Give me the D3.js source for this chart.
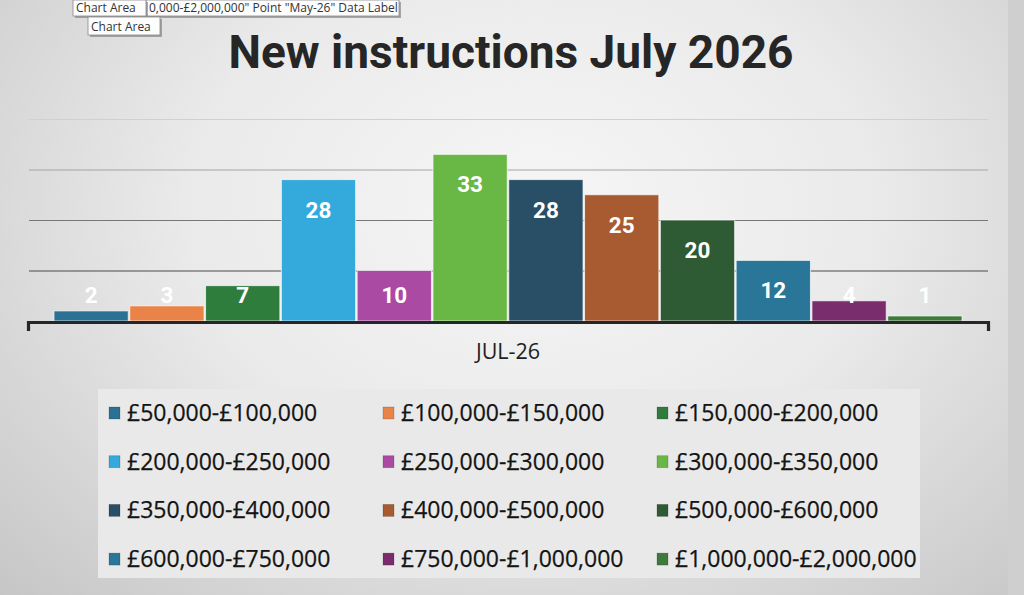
<!DOCTYPE html>
<html>
<head>
<meta charset="utf-8">
<title>New instructions July 2026</title>
<script src="https://cdn.jsdelivr.net/npm/d3@7"></script>
<style>
  * { margin: 0; padding: 0; }
  body {
    width: 1024px;
    height: 595px;
    overflow: hidden;
    background: radial-gradient(ellipse 75% 95% at 52% 35%, #f6f6f6 0%, #eaeaea 45%, #d2d2d2 80%, #c4c4c4 100%);
  }
  svg { display: block; }
</style>
</head>
<body>
<div id="chart"></div>
<script>
// chart values
const title = "New instructions July 2026";
const categories = ["JUL-26"];
const priceBands = [
  "£50,000-£100,000", "£100,000-£150,000", "£150,000-£200,000",
  "£200,000-£250,000", "£250,000-£300,000", "£300,000-£350,000",
  "£350,000-£400,000", "£400,000-£500,000", "£500,000-£600,000",
  "£600,000-£750,000", "£750,000-£1,000,000", "£1,000,000-£2,000,000"
];
const instructions = [2, 3, 7, 28, 10, 33, 28, 25, 20, 12, 4, 1];
const bandColours = [
  "#2b7193", "#ea8348", "#2f7d3d",
  "#33a9dc", "#aa4aa3", "#69b846",
  "#284f66", "#a85a30", "#2e5a34",
  "#2a7698", "#7a2d6c", "#3e7a3c"
];
const yTicks = [0, 10, 20, 30, 40];
const tooltips = ["Chart Area", "0,000-£2,000,000\" Point \"May-26\" Data Label", "Chart Area"];

const W = 1024, H = 595;
const svg = d3.select("#chart").append("svg")
  .attr("width", W).attr("height", H);

// strip at the right edge (window behind the chart)
svg.append("rect")
  .attr("x", 1008).attr("y", 0).attr("width", 16).attr("height", H)
  .attr("fill", "#cfcfcf");

// title
svg.append("text")
  .attr("x", 511).attr("y", 68)
  .attr("text-anchor", "middle")
  .attr("font-family", "Roboto, 'Open Sans', sans-serif")
  .attr("font-weight", 700)
  .attr("font-size", 47)
  .attr("fill", "#262626")
  .attr("textLength", 565)
  .attr("lengthAdjust", "spacingAndGlyphs")
  .text(title);

// scales
const x0 = d3.scaleBand().domain(categories).range([28, 988]).paddingOuter(0.0286);
const x1 = d3.scaleBand().domain(priceBands).range([0, x0.bandwidth()]).paddingInner(0.02);
const y = d3.scaleLinear().domain([0, 40]).range([321, 119]);
const gridColour = d3.scaleLinear().domain([10, 40]).range(["#4a4a4a", "#d0d0d0"]);

// gridlines
svg.append("g")
  .selectAll("line")
  .data(yTicks.filter(t => t > 0))
  .join("line")
  .attr("x1", 29).attr("x2", 988)
  .attr("y1", d => y(d) + 0.5).attr("y2", d => y(d) + 0.5)
  .attr("stroke", d => gridColour(d))
  .attr("stroke-width", 1.2);

// bars
const group = svg.append("g")
  .attr("transform", `translate(${x0(categories[0])},0)`);

group.selectAll("rect")
  .data(instructions)
  .join("rect")
  .attr("x", (d, i) => x1(priceBands[i]))
  .attr("y", d => y(d))
  .attr("width", x1.bandwidth())
  .attr("height", d => y(0) - y(d))
  .attr("fill", (d, i) => bandColours[i])
  .attr("stroke", "rgba(255,255,255,0.7)")
  .attr("stroke-width", 1);

// data labels
group.selectAll("text")
  .data(instructions)
  .join("text")
  .attr("x", (d, i) => x1(priceBands[i]) + x1.bandwidth() / 2)
  .attr("y", d => Math.min(y(d) + 38, y(0) - 18))
  .attr("text-anchor", "middle")
  .attr("font-family", "Roboto, sans-serif")
  .attr("font-weight", 700)
  .attr("font-size", 22.5)
  .attr("fill", "#ffffff")
  .text(d => d);

// category axis
const xAxis = svg.append("g")
  .attr("transform", `translate(0,${y(0) + 1})`)
  .call(d3.axisBottom(x0).tickSizeInner(0).tickSizeOuter(9).tickPadding(22));

xAxis.select(".domain")
  .attr("stroke", "#262626")
  .attr("stroke-width", 3.2);

xAxis.selectAll(".tick text")
  .attr("font-family", "'Open Sans', sans-serif")
  .attr("font-size", 21.5)
  .attr("fill", "#1e1e1e");

// legend
const legend = svg.append("g");
legend.append("rect")
  .attr("x", 98).attr("y", 389).attr("width", 822).attr("height", 189)
  .attr("fill", "#e9e9e9");

const legendItems = legend.selectAll("g.item")
  .data(priceBands)
  .join("g")
  .attr("class", "item")
  .attr("transform", (d, i) => `translate(${109 + (i % 3) * 274},${413 + Math.floor(i / 3) * 48.7})`);

legendItems.append("rect")
  .attr("x", 0).attr("y", -6)
  .attr("width", 11).attr("height", 12)
  .attr("fill", (d, i) => bandColours[i])
  .attr("stroke", "rgba(0,0,0,0.2)")
  .attr("stroke-width", 0.8);

legendItems.append("text")
  .attr("x", 18).attr("y", 8)
  .attr("font-family", "'Open Sans', sans-serif")
  .attr("font-size", 23)
  .attr("fill", "#141414")
  .attr("stroke", "#141414")
  .attr("stroke-width", 0.25)
  .text(d => d);

// Excel hover tooltips left in the picture
const tipBoxes = [
  { x: 146, y: 0, w: 253, h: 16, text: tooltips[1] },
  { x: 73, y: 0, w: 73, h: 16, text: tooltips[0] },
  { x: 88, y: 17, w: 72, h: 18, text: tooltips[2] }
];
const tips = svg.append("g").selectAll("g")
  .data(tipBoxes)
  .join("g");
tips.append("rect")
  .attr("x", d => d.x + 2).attr("y", d => d.y + 2)
  .attr("width", d => d.w).attr("height", d => d.h)
  .attr("fill", "#777").attr("opacity", 0.6);
tips.append("rect")
  .attr("x", d => d.x).attr("y", d => d.y)
  .attr("width", d => d.w).attr("height", d => d.h)
  .attr("fill", "#fdfdfd")
  .attr("stroke", "#888").attr("stroke-width", 0.8);
tips.append("text")
  .attr("x", d => d.x + 3).attr("y", d => d.y + d.h - 4)
  .attr("font-family", "'Open Sans', sans-serif")
  .attr("font-size", 12)
  .attr("fill", "#333")
  .text(d => d.text);
</script>
</body>
</html>
